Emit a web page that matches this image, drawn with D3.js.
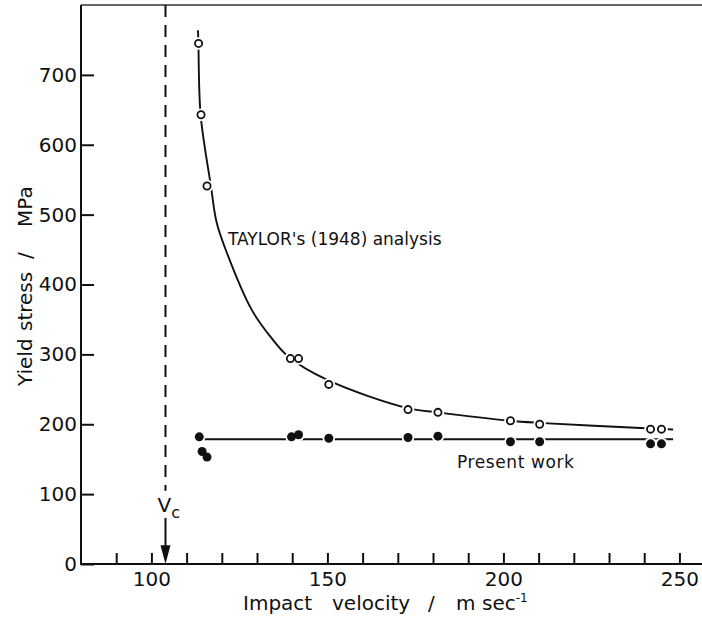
<!DOCTYPE html>
<html>
<head>
<meta charset="utf-8">
<script src="https://cdn.jsdelivr.net/npm/d3@7"></script>
<style>
  body { margin: 0; background: #fff; }
  svg { display: block; }
  text { font-family: "DejaVu Sans", sans-serif; fill: #111; }
</style>
</head>
<body>
<svg id="chart" width="702" height="619"></svg>
<script>
// Impact velocities of the test specimens (m/s)
const velocity = [113.4, 114.1, 115.8, 139.5, 141.8, 150.4, 172.9, 181.4, 202, 210.3, 241.8, 244.9];
// Yield stress from Taylor's (1948) analysis (MPa), open circles
const taylorStress = [745, 643, 541, 294, 294, 257, 221, 217, 205, 200, 193, 193];
// Yield stress from the present work (MPa), filled circles
const presentVelocity = [113.6, 114.4, 115.8, 139.8, 141.8, 150.4, 172.9, 181.4, 202, 210.3, 241.8, 244.9];
const presentStress = [182, 161, 153, 182, 185, 180, 181, 183, 175, 175, 172, 172];

// Smooth curve drawn through Taylor's results
const taylorCurveV = [113.24, 113.35, 113.98, 116.9, 118.52, 121.16, 128.47, 133.86, 138.86, 150.14, 172.78, 181.31, 201.85, 210.09, 241.9, 248.2];
const taylorCurveS = [764, 746, 643, 541, 489, 449, 364, 325, 297, 263, 223, 217, 205, 202, 194, 192.5];

// Mean line through the present results
const presentLineV = [113.6, 248.2];
const presentLineS = [178.5, 178.5];

// Critical impact velocity V_c
const criticalVelocity = 104;

const xTicks = d3.range(90, 251, 10);
const xTickLabels = [100, 150, 200, 250];
const yTicks = [0, 100, 200, 300, 400, 500, 600, 700];

const svg = d3.select("#chart");

const x = d3.scaleLinear().domain([80, 256.5]).range([81, 702.3]);
const y = d3.scaleLinear().domain([0, 800]).range([564, 5]);

const ink = "#111";

// Axes
const xAxis = d3.axisBottom(x)
  .tickValues(xTicks)
  .tickSizeInner(-11)
  .tickSizeOuter(0)
  .tickPadding(8)
  .tickFormat(d => xTickLabels.includes(d) ? d : "");

const yAxis = d3.axisLeft(y)
  .tickValues(yTicks)
  .tickSizeInner(-13)
  .tickSizeOuter(0)
  .tickPadding(4);

const gx = svg.append("g").attr("transform", `translate(0,${y(0)})`).call(xAxis);
const gy = svg.append("g").attr("transform", `translate(${x(80)},0)`).call(yAxis);

[gx, gy].forEach(g => {
  g.select(".domain").remove();
  g.selectAll(".tick line").attr("stroke", ink).attr("stroke-width", 2);
  g.selectAll(".tick text").attr("font-size", 20).attr("fill", ink)
    .style("font-family", '"DejaVu Sans", sans-serif');
});

// Axis lines and top frame line
svg.append("line")
  .attr("x1", x(80)).attr("x2", x(256.5))
  .attr("y1", y(0)).attr("y2", y(0))
  .attr("stroke", ink).attr("stroke-width", 2);
svg.append("line")
  .attr("x1", x(80)).attr("x2", x(80))
  .attr("y1", y(0) + 1).attr("y2", y(800))
  .attr("stroke", ink).attr("stroke-width", 2);
svg.append("line")
  .attr("x1", x(80)).attr("x2", x(256.5))
  .attr("y1", y(800)).attr("y2", y(800))
  .attr("stroke", "#333").attr("stroke-width", 1.6);

// Critical velocity: dashed line and arrow
svg.append("line")
  .attr("x1", x(criticalVelocity)).attr("x2", x(criticalVelocity))
  .attr("y1", y(800)).attr("y2", y(105))
  .attr("stroke", ink).attr("stroke-width", 2)
  .attr("stroke-dasharray", "12,8");
svg.append("line")
  .attr("x1", x(criticalVelocity)).attr("x2", x(criticalVelocity))
  .attr("y1", y(66)).attr("y2", y(20))
  .attr("stroke", ink).attr("stroke-width", 2);
svg.append("path")
  .attr("d", `M${x(criticalVelocity) - 5},${y(27)} L${x(criticalVelocity) + 5},${y(27)} L${x(criticalVelocity)},${y(0)} Z`)
  .attr("fill", ink);
const vc = svg.append("text")
  .attr("x", x(criticalVelocity) - 8).attr("y", y(74))
  .attr("font-size", 20);
vc.append("tspan").text("V");
vc.append("tspan").attr("dy", 6).attr("font-size", 16).text("c");

// Curves
const smooth = d3.line().x(d => x(d[0])).y(d => y(d[1])).curve(d3.curveCatmullRom.alpha(0.5));

svg.append("path")
  .datum(taylorCurveV.map((v, i) => [v, taylorCurveS[i]]))
  .attr("d", smooth)
  .attr("fill", "none").attr("stroke", ink).attr("stroke-width", 1.9);

svg.append("path")
  .datum(presentLineV.map((v, i) => [v, presentLineS[i]]))
  .attr("d", d3.line().x(d => x(d[0])).y(d => y(d[1])))
  .attr("fill", "none").attr("stroke", ink).attr("stroke-width", 2);

// White halos leave a small break in the lines around each marker
const openPts = velocity.map((v, i) => [v, taylorStress[i]]);
const filledPts = presentVelocity.map((v, i) => [v, presentStress[i]]);

svg.append("g").selectAll("circle")
  .data(openPts.concat(filledPts))
  .join("circle")
  .attr("cx", d => x(d[0])).attr("cy", d => y(d[1]))
  .attr("r", 6.3).attr("fill", "#fff");

svg.append("g").selectAll("circle")
  .data(openPts)
  .join("circle")
  .attr("cx", d => x(d[0])).attr("cy", d => y(d[1]))
  .attr("r", 3.6).attr("fill", "#fff")
  .attr("stroke", ink).attr("stroke-width", 1.8);

svg.append("g").selectAll("circle")
  .data(filledPts)
  .join("circle")
  .attr("cx", d => x(d[0])).attr("cy", d => y(d[1]))
  .attr("r", 4.5).attr("fill", ink);

// Curve labels
svg.append("text")
  .attr("x", 228).attr("y", 245)
  .attr("font-size", 17)
  .text("TAYLOR's (1948) analysis");

svg.append("text")
  .attr("x", 457).attr("y", 468)
  .attr("font-size", 17)
  .attr("letter-spacing", 0.6)
  .text("Present work");

// X axis title
const xt = svg.append("text").attr("y", 610).attr("font-size", 20);
xt.append("tspan").attr("x", 243).text("Impact");
xt.append("tspan").attr("x", 332).text("velocity");
xt.append("tspan").attr("x", 428).text("/");
xt.append("tspan").attr("x", 456).text("m");
xt.append("tspan").attr("x", 482).text("sec");
xt.append("tspan").attr("dy", -8).attr("font-size", 12).text("-1");

// Y axis title
const yt = svg.append("text")
  .attr("transform", "rotate(-90)")
  .attr("y", 32).attr("font-size", 20);
yt.append("tspan").attr("x", -386).text("Yield");
yt.append("tspan").attr("x", -331).text("stress");
yt.append("tspan").attr("x", -259).text("/");
yt.append("tspan").attr("x", -227).text("MPa");
</script>
</body>
</html>
